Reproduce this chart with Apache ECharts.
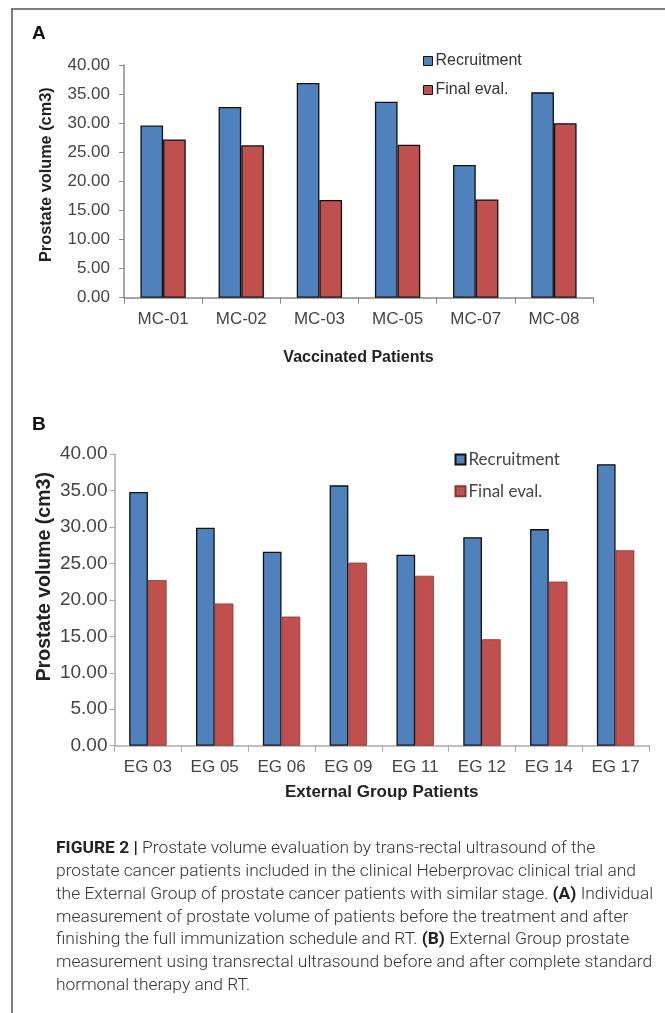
<!DOCTYPE html>
<html><head><meta charset="utf-8">
<script src="https://cdn.jsdelivr.net/npm/echarts@6/dist/echarts.min.js"></script>
<style>html,body{margin:0;padding:0;background:#fff}#c{width:665px;height:1013px}</style>
</head><body><div id="c"></div>
<script>
// Panel A data
var catA = ['MC-01','MC-02','MC-03','MC-05','MC-07','MC-08'];
var recA = [29.6, 32.8, 36.9, 33.7, 22.8, 35.3];
var finA = [27.2, 26.2, 16.8, 26.3, 16.9, 30.0];
// Panel B data
var catB = ['EG 03','EG 05','EG 06','EG 09','EG 11','EG 12','EG 14','EG 17'];
var recB = [34.8, 29.9, 26.6, 35.7, 26.2, 28.6, 29.7, 38.6];
var finB = [22.7, 19.5, 17.7, 25.1, 23.3, 14.6, 22.5, 26.8];
var seriesNames = ['Recruitment','Final eval.'];
var yTicks = [0,5,10,15,20,25,30,35,40];
var yTitle = 'Prostate volume (cm3)';
var xTitleA = 'Vaccinated Patients';
var xTitleB = 'External Group Patients';
var captionLines = [
  '{b|FIGURE 2 |}{n| Prostate volume evaluation by trans-rectal ultrasound of the}',
  '{n|prostate cancer patients included in the clinical Heberprovac clinical trial and}',
  '{n|the External Group of prostate cancer patients with similar stage. }{b|(A)}{n| Individual}',
  '{n|measurement of prostate volume of patients before the treatment and after}',
  '{n|finishing the full immunization schedule and RT. }{b|(B)}{n| External Group prostate}',
  '{n|measurement using transrectal ultrasound before and after complete standard}',
  '{n|hormonal therapy and RT.}'
];

var BLUE = '#4F81BD', RED = '#C0504D';
var ARIAL = 'Liberation Sans, Arial, sans-serif';
var chart = echarts.init(document.getElementById('c'), null, {renderer:'canvas'});

var capGraphics = captionLines.map(function(txt, i){
  return {
    type:'text', left:56, top: 840 + i*22.9,
    style:{
      text: txt,
      rich:{
        b:{fontFamily:'Roboto', fontWeight:'bold', fontSize:17.4, fill:'#222'},
        n:{fontFamily:'Roboto', fontWeight:300, fontSize:17.4, fill:'#333'}
      }
    }
  };
});

var fmt = function(v){ return v.toFixed(2); };

var option = {
  animation:false,
  backgroundColor:'#fff',
  grid:[
    {left:124, right:72, top:65, bottom:1013-297.7, containLabel:false},
    {left:114.5, right:16, top:454, bottom:1013-745.7, containLabel:false}
  ],
  legend:[
    {data:seriesNames.map(function(n){return {name:n};}), orient:'vertical', left:418, top:48,
     itemWidth:9, itemHeight:9, itemGap:13, icon:'rect',
     itemStyle:{borderColor:'#111', borderWidth:1},
     textStyle:{fontFamily:ARIAL, fontSize:16, color:'#333', padding:[0,0,0,-2]},
     selectedMode:false},
    {data:seriesNames.map(function(n){return {name:n+' '};}), orient:'vertical', left:449.5, top:446,
     itemWidth:10, itemHeight:10, itemGap:14.8, icon:'rect',
     formatter:function(n){return n.trim();},
     textStyle:{fontFamily:'Lato', fontSize:17, color:'#444', padding:[0,0,0,-2]},
     selectedMode:false}
  ],
  xAxis:[
    {type:'category', gridIndex:0, data:catA,
     axisLine:{lineStyle:{color:'#888', width:1.5}},
     axisTick:{show:true, interval:0, length:6, lineStyle:{color:'#888'}},
     axisLabel:{interval:0, fontFamily:ARIAL, fontSize:17, color:'#444', margin:13},
     name:xTitleA, nameLocation:'middle', nameGap:52,
     nameTextStyle:{fontFamily:ARIAL, fontWeight:'bold', fontSize:16, color:'#222'}},
    {type:'category', gridIndex:1, data:catB,
     axisLine:{lineStyle:{color:'#aaa', width:1.5}},
     axisTick:{show:true, interval:0, length:6, lineStyle:{color:'#aaa'}},
     axisLabel:{interval:0, fontFamily:ARIAL, fontSize:17, color:'#444', margin:13},
     name:xTitleB, nameLocation:'middle', nameGap:38,
     nameTextStyle:{fontFamily:ARIAL, fontWeight:'bold', fontSize:17, color:'#222'}}
  ],
  yAxis:[
    {type:'value', gridIndex:0, min:yTicks[0], max:yTicks[yTicks.length-1], interval:5,
     axisLine:{show:true, lineStyle:{color:'#888', width:1.5}},
     axisTick:{show:true, length:5, lineStyle:{color:'#888'}},
     splitLine:{show:false},
     axisLabel:{formatter:fmt, fontFamily:ARIAL, fontSize:17, color:'#444', margin:14}},
    {type:'value', gridIndex:1, min:yTicks[0], max:yTicks[yTicks.length-1], interval:5,
     axisLine:{show:true, lineStyle:{color:'#aaa', width:1.5}},
     axisTick:{show:true, length:5, lineStyle:{color:'#aaa'}},
     splitLine:{show:false},
     axisLabel:{formatter:fmt, fontFamily:ARIAL, fontSize:19, color:'#444', margin:7}}
  ],
  series:[
    {name:seriesNames[0], type:'bar', xAxisIndex:0, yAxisIndex:0, data:recA,
     barGap:'0%', barCategoryGap:'42%',
     itemStyle:{color:BLUE, borderColor:'#111', borderWidth:1.3}},
    {name:seriesNames[1], type:'bar', xAxisIndex:0, yAxisIndex:0, data:finA,
     barGap:'0%', barCategoryGap:'42%',
     itemStyle:{color:RED, borderColor:'#111', borderWidth:1.3}},
    {name:seriesNames[0]+' ', type:'bar', xAxisIndex:1, yAxisIndex:1, data:recB,
     barGap:'0%', barCategoryGap:'44%',
     itemStyle:{color:BLUE, borderColor:'#111', borderWidth:1.3}},
    {name:seriesNames[1]+' ', type:'bar', xAxisIndex:1, yAxisIndex:1, data:finB,
     barGap:'0%', barCategoryGap:'44%',
     itemStyle:{color:RED, borderColor:'#8E3532', borderWidth:0.8}}
  ],
  graphic:[
    {type:'line', shape:{x1:11, y1:9, x2:665, y2:9}, style:{stroke:'#555', lineWidth:1.5}},
    {type:'line', shape:{x1:12, y1:9, x2:12, y2:1013}, style:{stroke:'#555', lineWidth:1.5}},
    {type:'text', left:32, top:24, style:{text:'A', fontFamily:ARIAL, fontWeight:'bold', fontSize:19, fill:'#111'}},
    {type:'text', left:32, top:415, style:{text:'B', fontFamily:ARIAL, fontWeight:'bold', fontSize:19, fill:'#111'}},
    {type:'text', x:46.3, y:174.7, rotation:Math.PI/2,
     style:{text:yTitle, fontFamily:ARIAL, fontWeight:'bold', fontSize:16.3, fill:'#222', align:'center', verticalAlign:'middle'}},
    {type:'text', x:45, y:576.7, rotation:Math.PI/2,
     style:{text:yTitle, fontFamily:ARIAL, fontWeight:'bold', fontSize:19.5, fill:'#222', align:'center', verticalAlign:'middle'}}
  ].concat(capGraphics)
};
chart.setOption(option);
</script></body></html>
